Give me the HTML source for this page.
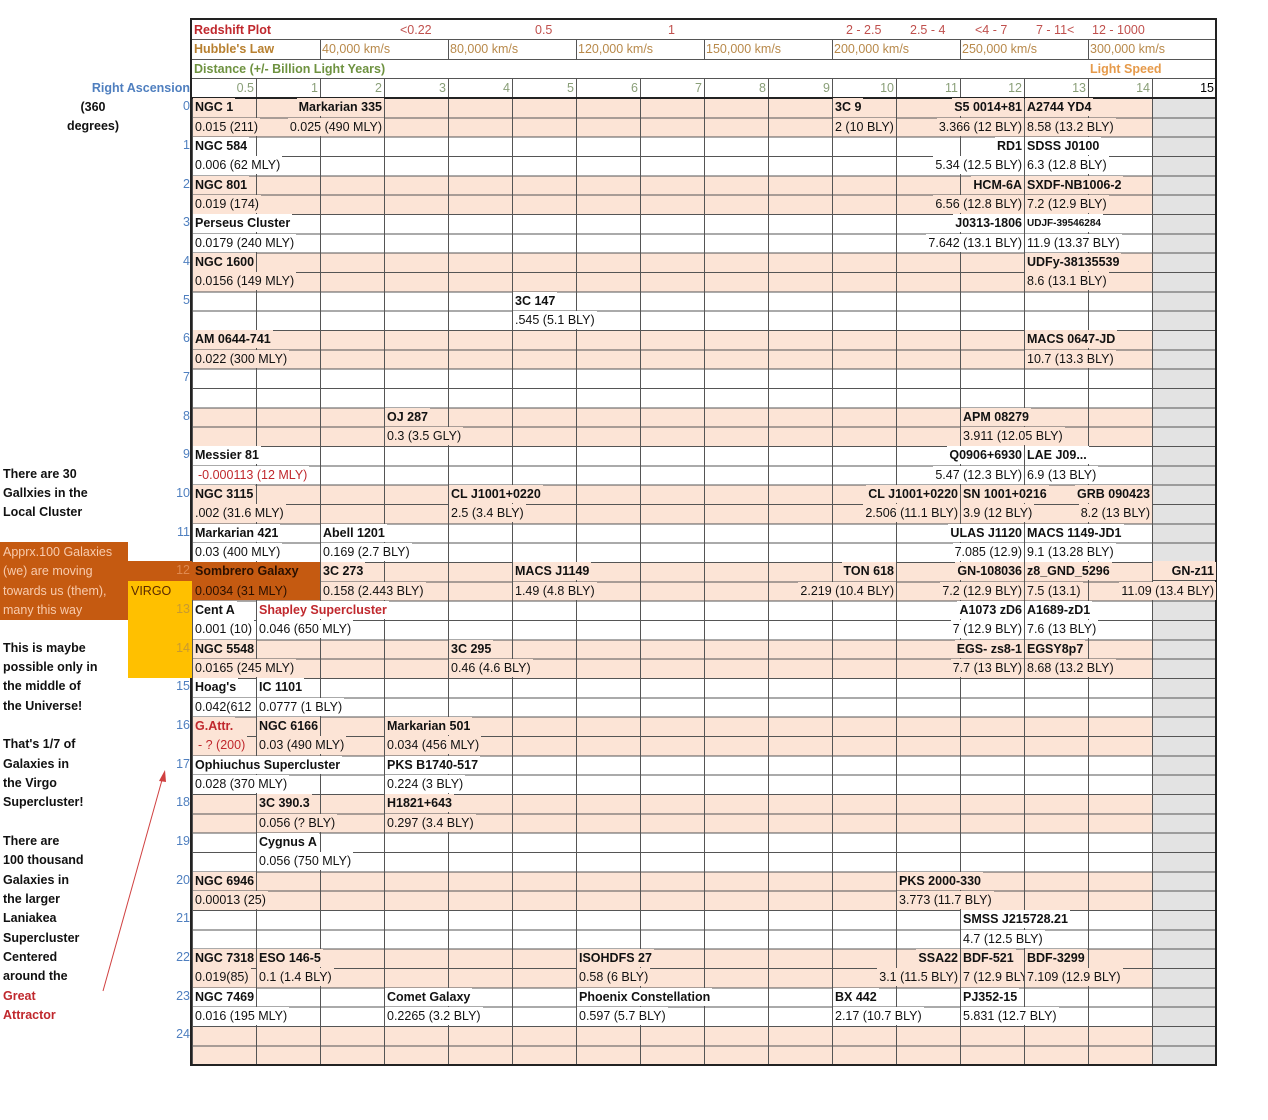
<!DOCTYPE html>
<html><head><meta charset="utf-8"><style>
body{margin:0;width:1268px;height:1120px;background:#fff;position:relative;overflow:hidden;font-family:"Liberation Sans",Arial,sans-serif;font-size:12.5px;color:#111}
span{white-space:nowrap}
.a{position:absolute;white-space:nowrap;height:18px;line-height:19px;padding:0 2px;top:calc(21px + var(--r)*19.333px)}
.l{left:calc(193px + var(--c)*64px)}
.rr{right:calc(1076px - var(--e)*64px)}
.b{font-weight:bold}
.P .a{background:#fce4d6}
.W .a{background:#fff}
.red{color:#c0282d}
.grid{position:absolute;left:192px;top:98px;width:1023px;height:967px;background:
repeating-linear-gradient(to bottom,#555 0 1px,transparent 1px 19.333px),
repeating-linear-gradient(to right,#555 0 1px,transparent 1px 64px),
linear-gradient(to right,transparent 960px,#e3e3e3 960px),
repeating-linear-gradient(to bottom,#fce4d6 0 38.667px,#fff 38.667px 77.333px)}
.hl{position:absolute;left:192px;width:1023px;height:1px;background:#555}
.vl{position:absolute;width:1px;background:#555}
.lt{position:absolute;left:3px;font-weight:bold;height:19px;line-height:19px;white-space:nowrap;top:calc(20px + var(--r)*19.333px)}
.ra{position:absolute;right:1078px;color:#4f7fbf;height:19px;line-height:19px;top:calc(20px + var(--r)*19.333px)}
.hn{position:absolute;color:#8a9f78;height:19px;line-height:19px;top:79px;right:calc(1078px - var(--e)*64px)}
</style></head><body>
<div class="grid"></div>
<div style="position:absolute;left:1152px;top:561px;width:63px;height:38.6px;background:#fce4d6"></div>
<div class="vl" style="left:1152px;top:561px;height:39px"></div>
<div class="hl" style="left:1152px;width:63px;top:580px"></div>
<div class="hl" style="top:39px"></div><div class="hl" style="top:59px"></div><div class="hl" style="top:78px"></div>
<div class="vl" style="left:320px;top:39px;height:20px"></div><div class="vl" style="left:448px;top:39px;height:20px"></div><div class="vl" style="left:576px;top:39px;height:20px"></div><div class="vl" style="left:704px;top:39px;height:20px"></div><div class="vl" style="left:832px;top:39px;height:20px"></div><div class="vl" style="left:960px;top:39px;height:20px"></div><div class="vl" style="left:1088px;top:39px;height:20px"></div>
<div class="vl" style="left:256px;top:78px;height:20px"></div><div class="vl" style="left:320px;top:78px;height:20px"></div><div class="vl" style="left:384px;top:78px;height:20px"></div><div class="vl" style="left:448px;top:78px;height:20px"></div><div class="vl" style="left:512px;top:78px;height:20px"></div><div class="vl" style="left:576px;top:78px;height:20px"></div><div class="vl" style="left:640px;top:78px;height:20px"></div><div class="vl" style="left:704px;top:78px;height:20px"></div><div class="vl" style="left:768px;top:78px;height:20px"></div><div class="vl" style="left:832px;top:78px;height:20px"></div><div class="vl" style="left:896px;top:78px;height:20px"></div><div class="vl" style="left:960px;top:78px;height:20px"></div><div class="vl" style="left:1024px;top:78px;height:20px"></div><div class="vl" style="left:1088px;top:78px;height:20px"></div><div class="vl" style="left:1152px;top:78px;height:20px"></div>
<div style="position:absolute;left:192px;top:97px;width:1023px;height:2px;background:#222"></div>
<div style="position:absolute;left:190px;top:18px;width:1023px;height:1044px;border:2px solid #222"></div>

<div style="position:absolute;top:21px;height:18px;line-height:19px;left:194px;color:#c0282d;font-weight:bold">Redshift Plot</div>
<div style="position:absolute;top:21px;line-height:19px;color:#c0504d;left:0;width:0">
<span style="position:absolute;left:400px">&lt;0.22</span><span style="position:absolute;left:535px">0.5</span><span style="position:absolute;left:668px">1</span><span style="position:absolute;left:846px">2 - 2.5</span><span style="position:absolute;left:910px">2.5 - 4</span><span style="position:absolute;left:975px">&lt;4 - 7</span><span style="position:absolute;left:1036px">7 - 11&lt;</span><span style="position:absolute;left:1092px">12 - 1000</span></div>
<div style="position:absolute;top:40px;line-height:19px;left:194px;color:#b8802f;font-weight:bold">Hubble's Law</div>
<div style="position:absolute;top:40px;line-height:19px;color:#b8894a;left:0;width:0">
<span style="position:absolute;left:322px">40,000 km/s</span><span style="position:absolute;left:450px">80,000 km/s</span><span style="position:absolute;left:578px">120,000 km/s</span><span style="position:absolute;left:706px">150,000 km/s</span><span style="position:absolute;left:834px">200,000 km/s</span><span style="position:absolute;left:962px">250,000 km/s</span><span style="position:absolute;left:1090px">300,000 km/s</span></div>
<div style="position:absolute;top:60px;line-height:19px;left:194px;color:#6e9240;font-weight:bold;white-space:nowrap">Distance (+/- Billion Light Years)</div>
<div style="position:absolute;top:60px;line-height:19px;left:1090px;color:#e69a4a;font-weight:bold;white-space:nowrap">Light Speed</div>
<div style="position:absolute;top:79px;line-height:19px;right:1078px;color:#4f7fbf;font-weight:bold;white-space:nowrap">Right Ascension</div>
<div class="hn" style="--e:1">0.5</div><div class="hn" style="--e:2">1</div><div class="hn" style="--e:3">2</div><div class="hn" style="--e:4">3</div><div class="hn" style="--e:5">4</div><div class="hn" style="--e:6">5</div><div class="hn" style="--e:7">6</div><div class="hn" style="--e:8">7</div><div class="hn" style="--e:9">8</div><div class="hn" style="--e:10">9</div><div class="hn" style="--e:11">10</div><div class="hn" style="--e:12">11</div><div class="hn" style="--e:13">12</div><div class="hn" style="--e:14">13</div><div class="hn" style="--e:15">14</div><div class="hn" style="--e:16;color:#000">15</div>

<div style="position:absolute;left:0;top:542px;width:128px;height:78px;background:#c55a11"></div>
<div style="position:absolute;left:128px;top:561px;width:64px;height:20px;background:#c55a11"></div>
<div style="position:absolute;left:128px;top:581px;width:64px;height:97px;background:#ffc000"></div>
<div style="position:absolute;left:192px;top:562px;width:128px;height:38px;background:#c55a11"></div>
<div style="position:absolute;left:131px;top:582px;line-height:19px;color:#5a2a00">VIRGO</div>
<div style="position:absolute;left:3px;top:543px;line-height:19.33px;color:#f8cbad;white-space:nowrap">Apprx.100 Galaxies<br>(we) are moving<br>towards us (them),<br>many this way</div>

<div class="ra" style="--r:4">0</div><div class="ra" style="--r:6">1</div><div class="ra" style="--r:8">2</div><div class="ra" style="--r:10">3</div><div class="ra" style="--r:12">4</div><div class="ra" style="--r:14">5</div><div class="ra" style="--r:16">6</div><div class="ra" style="--r:18">7</div><div class="ra" style="--r:20">8</div><div class="ra" style="--r:22">9</div><div class="ra" style="--r:24">10</div><div class="ra" style="--r:26">11</div><div class="ra" style="--r:28;color:#e08a50">12</div><div class="ra" style="--r:30;color:#c89a30">13</div><div class="ra" style="--r:32;color:#c89a30">14</div><div class="ra" style="--r:34">15</div><div class="ra" style="--r:36">16</div><div class="ra" style="--r:38">17</div><div class="ra" style="--r:40">18</div><div class="ra" style="--r:42">19</div><div class="ra" style="--r:44">20</div><div class="ra" style="--r:46">21</div><div class="ra" style="--r:48">22</div><div class="ra" style="--r:50">23</div><div class="ra" style="--r:52">24</div>

<div style="position:absolute;left:60px;width:66px;text-align:center;top:98px;line-height:19.33px;font-weight:bold">(360<br>degrees)</div>
<div class="lt" style="--r:23">There are 30</div><div class="lt" style="--r:24">Gallxies in the</div><div class="lt" style="--r:25">Local Cluster</div>
<div class="lt" style="--r:32">This is maybe</div><div class="lt" style="--r:33">possible only in</div><div class="lt" style="--r:34">the middle of</div><div class="lt" style="--r:35">the Universe!</div>
<div class="lt" style="--r:37">That's 1/7 of</div><div class="lt" style="--r:38">Galaxies in</div><div class="lt" style="--r:39">the Virgo</div><div class="lt" style="--r:40">Supercluster!</div>
<div class="lt" style="--r:42">There are</div><div class="lt" style="--r:43">100 thousand</div><div class="lt" style="--r:44">Galaxies in</div><div class="lt" style="--r:45">the larger</div><div class="lt" style="--r:46">Laniakea</div><div class="lt" style="--r:47">Supercluster</div><div class="lt" style="--r:48">Centered</div><div class="lt" style="--r:49">around the</div><div class="lt red" style="--r:50">Great</div><div class="lt red" style="--r:51">Attractor</div>
<svg style="position:absolute;left:0;top:0" width="1268" height="1120"><line x1="103" y1="991" x2="162" y2="780" stroke="#d04040" stroke-width="1"/><polygon points="165,770 159,781 166,782" fill="#d04040"/></svg>

<div class="P">
<div class="a l b" style="--r:4;--c:0">NGC 1</div><div class="a rr b" style="--r:4;--e:3">Markarian 335</div><div class="a l" style="--r:5;--c:0">0.015 (211)</div><div class="a rr" style="--r:5;--e:3">0.025 (490 MLY)</div>
<div class="a l b" style="--r:4;--c:10">3C 9</div><div class="a l" style="--r:5;--c:10">2 (10 BLY)</div><div class="a rr b" style="--r:4;--e:13">S5 0014+81</div><div class="a rr" style="--r:5;--e:13">3.366 (12 BLY)</div><div class="a l b" style="--r:4;--c:13">A2744 YD4</div><div class="a l" style="--r:5;--c:13">8.58 (13.2 BLY)</div>
</div>
<div class="W">
<div class="a l b" style="--r:6;--c:0">NGC 584</div><div class="a l" style="--r:7;--c:0">0.006 (62 MLY)</div><div class="a rr b" style="--r:6;--e:13">RD1</div><div class="a rr" style="--r:7;--e:13">5.34 (12.5 BLY)</div><div class="a l b" style="--r:6;--c:13">SDSS J0100</div><div class="a l" style="--r:7;--c:13">6.3 (12.8 BLY)</div>
</div>
<div class="P">
<div class="a l b" style="--r:8;--c:0">NGC 801</div><div class="a l" style="--r:9;--c:0">0.019 (174)</div><div class="a rr b" style="--r:8;--e:13">HCM-6A</div><div class="a rr" style="--r:9;--e:13">6.56 (12.8 BLY)</div><div class="a l b" style="--r:8;--c:13">SXDF-NB1006-2</div><div class="a l" style="--r:9;--c:13">7.2 (12.9 BLY)</div>
</div>
<div class="W">
<div class="a l b" style="--r:10;--c:0">Perseus Cluster</div><div class="a l" style="--r:11;--c:0">0.0179 (240 MLY)</div><div class="a rr b" style="--r:10;--e:13">J0313-1806</div><div class="a rr" style="--r:11;--e:13">7.642 (13.1 BLY)</div><div class="a l b" style="--r:10;--c:13;font-size:10px">UDJF-39546284</div><div class="a l" style="--r:11;--c:13">11.9 (13.37 BLY)</div>
</div>
<div class="P">
<div class="a l b" style="--r:12;--c:0">NGC 1600</div><div class="a l" style="--r:13;--c:0">0.0156 (149 MLY)</div><div class="a l b" style="--r:12;--c:13">UDFy-38135539</div><div class="a l" style="--r:13;--c:13">8.6 (13.1 BLY)</div>
</div>
<div class="W">
<div class="a l b" style="--r:14;--c:5">3C 147</div><div class="a l" style="--r:15;--c:5">.545 (5.1 BLY)</div>
</div>
<div class="P">
<div class="a l b" style="--r:16;--c:0">AM 0644-741</div><div class="a l" style="--r:17;--c:0">0.022 (300 MLY)</div><div class="a l b" style="--r:16;--c:13">MACS 0647-JD</div><div class="a l" style="--r:17;--c:13">10.7 (13.3 BLY)</div>
</div>
<div class="P">
<div class="a l b" style="--r:20;--c:3">OJ 287</div><div class="a l" style="--r:21;--c:3">0.3 (3.5 GLY)</div><div class="a l b" style="--r:20;--c:12">APM 08279</div><div class="a l" style="--r:21;--c:12">3.911 (12.05 BLY)</div>
</div>
<div class="W">
<div class="a l b" style="--r:22;--c:0">Messier 81</div><div class="a l red" style="--r:23;--c:0;padding-left:5px">-0.000113 (12 MLY)</div><div class="a rr b" style="--r:22;--e:13">Q0906+6930</div><div class="a rr" style="--r:23;--e:13">5.47 (12.3 BLY)</div><div class="a l b" style="--r:22;--c:13">LAE J09...</div><div class="a l" style="--r:23;--c:13">6.9 (13 BLY)</div>
</div>
<div class="P">
<div class="a l b" style="--r:24;--c:0">NGC 3115</div><div class="a l" style="--r:25;--c:0">.002 (31.6 MLY)</div><div class="a l b" style="--r:24;--c:4">CL J1001+0220</div><div class="a l" style="--r:25;--c:4">2.5 (3.4 BLY)</div><div class="a rr b" style="--r:24;--e:12">CL J1001+0220</div><div class="a rr" style="--r:25;--e:12">2.506 (11.1 BLY)</div><div class="a l b" style="--r:24;--c:12">SN 1001+0216</div><div class="a l" style="--r:25;--c:12">3.9 (12 BLY)</div><div class="a rr b" style="--r:24;--e:15">GRB 090423</div><div class="a rr" style="--r:25;--e:15">8.2 (13 BLY)</div>
</div>
<div class="W">
<div class="a l b" style="--r:26;--c:0">Markarian 421</div><div class="a l" style="--r:27;--c:0">0.03 (400 MLY)</div><div class="a l b" style="--r:26;--c:2">Abell 1201</div><div class="a l" style="--r:27;--c:2">0.169 (2.7 BLY)</div><div class="a rr b" style="--r:26;--e:13">ULAS J1120</div><div class="a rr" style="--r:27;--e:13">7.085 (12.9)</div><div class="a l b" style="--r:26;--c:13">MACS 1149-JD1</div><div class="a l" style="--r:27;--c:13">9.1 (13.28 BLY)</div>
</div>
<div class="P">
<div class="a l b" style="--r:28;--c:0;background:#c55a11;color:#2a1000">Sombrero Galaxy</div><div class="a l" style="--r:29;--c:0;background:#c55a11;color:#2a1000">0.0034 (31 MLY)</div><div class="a l b" style="--r:28;--c:2">3C 273</div><div class="a l" style="--r:29;--c:2">0.158 (2.443 BLY)</div><div class="a l b" style="--r:28;--c:5">MACS J1149</div><div class="a l" style="--r:29;--c:5">1.49 (4.8 BLY)</div><div class="a rr b" style="--r:28;--e:11">TON 618</div><div class="a rr" style="--r:29;--e:11">2.219 (10.4 BLY)</div><div class="a rr b" style="--r:28;--e:13">GN-108036</div><div class="a rr" style="--r:29;--e:13">7.2 (12.9 BLY)</div><div class="a l b" style="--r:28;--c:13">z8_GND_5296</div><div class="a l" style="--r:29;--c:13">7.5 (13.1)</div><div class="a rr b" style="--r:28;--e:16">GN-z11</div><div class="a rr" style="--r:29;--e:16">11.09 (13.4 BLY)</div>
</div>
<div class="W">
<div class="a l b" style="--r:30;--c:0">Cent A</div><div class="a l" style="--r:31;--c:0">0.001 (10)</div><div class="a l b red" style="--r:30;--c:1">Shapley Supercluster</div><div class="a l" style="--r:31;--c:1">0.046 (650 MLY)</div><div class="a rr b" style="--r:30;--e:13">A1073 zD6</div><div class="a rr" style="--r:31;--e:13">7 (12.9 BLY)</div><div class="a l b" style="--r:30;--c:13">A1689-zD1</div><div class="a l" style="--r:31;--c:13">7.6 (13 BLY)</div>
</div>
<div class="P">
<div class="a l b" style="--r:32;--c:0">NGC 5548</div><div class="a l" style="--r:33;--c:0">0.0165 (245 MLY)</div><div class="a l b" style="--r:32;--c:4">3C 295</div><div class="a l" style="--r:33;--c:4">0.46 (4.6 BLY)</div><div class="a rr b" style="--r:32;--e:13">EGS- zs8-1</div><div class="a rr" style="--r:33;--e:13">7.7 (13 BLY)</div><div class="a l b" style="--r:32;--c:13">EGSY8p7</div><div class="a l" style="--r:33;--c:13">8.68 (13.2 BLY)</div>
</div>
<div class="W">
<div class="a l b" style="--r:34;--c:0">Hoag's</div><div class="a l" style="--r:35;--c:0;width:59px;overflow:hidden">0.042(612</div><div class="a l b" style="--r:34;--c:1">IC 1101</div><div class="a l" style="--r:35;--c:1">0.0777 (1 BLY)</div>
</div>
<div class="P">
<div class="a l b red" style="--r:36;--c:0">G.Attr.</div><div class="a l red" style="--r:37;--c:0;padding-left:5px">- ? (200)</div><div class="a l b" style="--r:36;--c:1">NGC 6166</div><div class="a l" style="--r:37;--c:1">0.03 (490 MLY)</div><div class="a l b" style="--r:36;--c:3">Markarian 501</div><div class="a l" style="--r:37;--c:3">0.034 (456 MLY)</div>
</div>
<div class="W">
<div class="a l b" style="--r:38;--c:0">Ophiuchus Supercluster</div><div class="a l" style="--r:39;--c:0">0.028 (370 MLY)</div><div class="a l b" style="--r:38;--c:3">PKS B1740-517</div><div class="a l" style="--r:39;--c:3">0.224 (3 BLY)</div>
</div>
<div class="P">
<div class="a l b" style="--r:40;--c:1">3C 390.3</div><div class="a l" style="--r:41;--c:1">0.056 (? BLY)</div><div class="a l b" style="--r:40;--c:3">H1821+643</div><div class="a l" style="--r:41;--c:3">0.297 (3.4 BLY)</div>
</div>
<div class="W">
<div class="a l b" style="--r:42;--c:1">Cygnus A</div><div class="a l" style="--r:43;--c:1">0.056 (750 MLY)</div>
</div>
<div class="P">
<div class="a l b" style="--r:44;--c:0">NGC 6946</div><div class="a l" style="--r:45;--c:0">0.00013 (25)</div><div class="a l b" style="--r:44;--c:11">PKS 2000-330</div><div class="a l" style="--r:45;--c:11">3.773 (11.7 BLY)</div>
</div>
<div class="W">
<div class="a l b" style="--r:46;--c:12">SMSS J215728.21</div><div class="a l" style="--r:47;--c:12">4.7 (12.5 BLY)</div>
</div>
<div class="P">
<div class="a l b" style="--r:48;--c:0">NGC 7318</div><div class="a l" style="--r:49;--c:0">0.019(85)</div><div class="a l b" style="--r:48;--c:1">ESO 146-5</div><div class="a l" style="--r:49;--c:1">0.1 (1.4 BLY)</div><div class="a l b" style="--r:48;--c:6">ISOHDFS 27</div><div class="a l" style="--r:49;--c:6">0.58 (6 BLY)</div><div class="a rr b" style="--r:48;--e:12">SSA22</div><div class="a rr" style="--r:49;--e:12">3.1 (11.5 BLY)</div><div class="a l b" style="--r:48;--c:12">BDF-521</div><div class="a l" style="--r:49;--c:12;width:59px;overflow:hidden">7 (12.9 BLY)</div><div class="a l b" style="--r:48;--c:13">BDF-3299</div><div class="a l" style="--r:49;--c:13">7.109 (12.9 BLY)</div>
</div>
<div class="W">
<div class="a l b" style="--r:50;--c:0">NGC 7469</div><div class="a l" style="--r:51;--c:0">0.016 (195 MLY)</div><div class="a l b" style="--r:50;--c:3">Comet Galaxy</div><div class="a l" style="--r:51;--c:3">0.2265 (3.2 BLY)</div><div class="a l b" style="--r:50;--c:6">Phoenix Constellation</div><div class="a l" style="--r:51;--c:6">0.597 (5.7 BLY)</div><div class="a l b" style="--r:50;--c:10">BX 442</div><div class="a l" style="--r:51;--c:10">2.17 (10.7 BLY)</div><div class="a l b" style="--r:50;--c:12">PJ352-15</div><div class="a l" style="--r:51;--c:12">5.831 (12.7 BLY)</div>
</div>
</body></html>
